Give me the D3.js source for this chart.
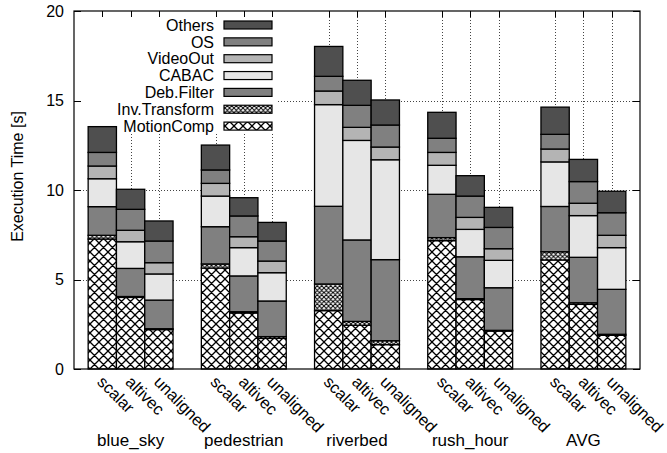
<!DOCTYPE html>
<html>
<head>
<meta charset="utf-8">
<script src="https://cdn.jsdelivr.net/npm/d3@7/dist/d3.min.js"></script>
<style>
  html, body { margin: 0; padding: 0; background: #fff; }
  svg { display: block; font-family: "Liberation Sans", Arial, Helvetica, sans-serif; }
</style>
</head>
<body>
<svg id="chart" width="667" height="453"></svg>
<script>
// Benchmark clips and code variants
const groups = ["blue_sky", "pedestrian", "riverbed", "rush_hour", "AVG"];
const variants = ["scalar", "altivec", "unaligned"];
const yTicks = [0, 5, 10, 15, 20];

// Execution time per component [s], one entry per bar (clip x variant)
const motionComp   = [7.26, 4.00, 2.20,  5.64, 3.13, 1.71,  3.26, 2.44, 1.36,  7.17, 3.88, 2.12,  6.09, 3.61, 1.88];
const invTransform = [0.21, 0.05, 0.05,  0.23, 0.07, 0.10,  1.49, 0.22, 0.22,  0.17, 0.05, 0.04,  0.46, 0.09, 0.06];
const debFilter    = [1.60, 1.57, 1.60,  2.08, 2.00, 1.99,  4.34, 4.55, 4.53,  2.42, 2.34, 2.38,  2.53, 2.54, 2.51];
const cabac        = [1.56, 1.49, 1.46,  1.71, 1.58, 1.58,  5.68, 5.56, 5.58,  1.62, 1.53, 1.53,  2.49, 2.33, 2.33];
const videoOut     = [0.71, 0.64, 0.63,  0.71, 0.61, 0.65,  0.76, 0.73, 0.71,  0.72, 0.67, 0.65,  0.72, 0.69, 0.69];
const os           = [0.76, 1.17, 1.21,  0.75, 1.16, 1.12,  0.82, 1.23, 1.23,  0.79, 1.19, 1.19,  0.82, 1.21, 1.26];
const others       = [1.44, 1.12, 1.12,  1.39, 1.02, 1.04,  1.67, 1.40, 1.40,  1.45, 1.14, 1.12,  1.52, 1.24, 1.20];

// Stack order, bottom to top
const series = [
  { name: "MotionComp",    values: motionComp,   fill: "url(#hatchWide)" },
  { name: "Inv.Transform", values: invTransform, fill: "url(#hatchFine)" },
  { name: "Deb.Filter",    values: debFilter,    fill: "#808080" },
  { name: "CABAC",         values: cabac,        fill: "#e6e6e6" },
  { name: "VideoOut",      values: videoOut,     fill: "#b4b4b4" },
  { name: "OS",            values: os,           fill: "#808080" },
  { name: "Others",        values: others,       fill: "#4f4f4f" }
];

const svg = d3.select("#chart");
const plot = { left: 74, right: 640, top: 11, bottom: 369 };

// Hatch patterns
const defs = svg.append("defs");
function hatch(id, size, width) {
  const p = defs.append("pattern").attr("id", id).attr("patternUnits", "userSpaceOnUse")
    .attr("width", size).attr("height", size);
  p.append("rect").attr("width", size).attr("height", size).attr("fill", "#fff");
  p.append("path")
    .attr("d", `M0,0L${size},${size}M0,${size}L${size},0M${-size/2},${size/2}L${size/2},${size*1.5}M${size/2},${-size/2}L${size*1.5},${size/2}M${-size/2},${size/2}L${size/2},${-size/2}M${size/2},${size*1.5}L${size*1.5},${size/2}`)
    .attr("stroke", "#000").attr("stroke-width", width);
}
hatch("hatchWide", 9, 1.3);
hatch("hatchFine", 4.5, 1.0);

// Bars sit in slots: 3 per clip plus one empty slot between clips
const bars = [];
groups.forEach((g, gi) => variants.forEach((v, vi) => {
  bars.push({ group: g, variant: v, slot: gi * 4 + vi, idx: gi * 3 + vi });
}));
const x = d3.scaleLinear().domain([-1, groups.length * 4 - 1]).range([plot.left, plot.right]);
const slotW = x(1) - x(0);
const y = d3.scaleLinear().domain([0, 20]).range([plot.bottom, plot.top]);

// Grid
const grid = svg.append("g").attr("stroke", "#444").attr("stroke-width", 1).attr("stroke-dasharray", "1,2");
yTicks.filter(t => t > 0 && t < 20).forEach(t => {
  grid.append("line").attr("x1", plot.left).attr("x2", plot.right)
    .attr("y1", Math.round(y(t)) + 0.5).attr("y2", Math.round(y(t)) + 0.5);
});
bars.forEach(b => {
  const cx = Math.round(x(b.slot)) + 0.5;
  grid.append("line").attr("x1", cx).attr("x2", cx).attr("y1", plot.top).attr("y2", plot.bottom);
});

// Legend background
const legend = { textRight: 214, swatchX: 224, swatchW: 48, swatchH: 8, rowTop: 25, rowStep: 16.85 };
svg.append("rect").attr("x", 82).attr("y", 17).attr("width", 196).attr("height", 116).attr("fill", "#fff");

// Stacked bars
const stack = d3.stack().keys(series.map((s, i) => i)).value((d, k) => series[k].values[d.idx]);
const layers = stack(bars);
const barG = svg.append("g");
layers.forEach((layer, k) => {
  barG.append("g").selectAll("rect").data(layer).join("rect")
    .attr("x", d => x(d.data.slot) - slotW / 2)
    .attr("width", slotW)
    .attr("y", d => y(d[1]))
    .attr("height", d => y(d[0]) - y(d[1]))
    .attr("fill", series[k].fill)
    .attr("stroke", "#000")
    .attr("stroke-width", 1.3);
});

// Frame
svg.append("rect").attr("x", plot.left).attr("y", plot.top)
  .attr("width", plot.right - plot.left).attr("height", plot.bottom - plot.top)
  .attr("fill", "none").attr("stroke", "#000").attr("stroke-width", 1.2);

// Y ticks (both sides, inward)
const ticks = svg.append("g").attr("stroke", "#000").attr("stroke-width", 1);
yTicks.forEach(t => {
  const yy = Math.round(y(t)) + 0.5;
  ticks.append("line").attr("x1", plot.left).attr("x2", plot.left + 7).attr("y1", yy).attr("y2", yy);
  ticks.append("line").attr("x1", plot.right - 7).attr("x2", plot.right).attr("y1", yy).attr("y2", yy);
});
bars.forEach(b => {
  const cx = Math.round(x(b.slot)) + 0.5;
  ticks.append("line").attr("x1", cx).attr("x2", cx).attr("y1", plot.top).attr("y2", plot.top + 6);
});

// Y tick labels
svg.append("g").selectAll("text").data(yTicks).join("text")
  .attr("x", 64).attr("y", d => y(d)).attr("dy", "0.36em")
  .attr("text-anchor", "end").attr("font-size", 16).attr("fill", "#000")
  .text(d => d);

// Y axis title
svg.append("text")
  .attr("transform", `translate(23,${(113 + 240) / 2}) rotate(-90)`)
  .attr("text-anchor", "middle").attr("font-size", 16).attr("fill", "#000")
  .text("Execution Time [s]");

// Variant labels, slanted
svg.append("g").selectAll("text").data(bars).join("text")
  .attr("transform", d => `translate(${x(d.slot) - 6},${383}) rotate(45)`)
  .attr("font-size", 16.5).attr("fill", "#000")
  .text(d => d.variant);

// Clip labels
svg.append("g").selectAll("text").data(groups).join("text")
  .attr("x", (d, i) => x(i * 4 + 1)).attr("y", 446)
  .attr("text-anchor", "middle").attr("font-size", 17).attr("fill", "#000")
  .text(d => d);

// Legend entries, top to bottom
const legendItems = series.slice().reverse();
const lg = svg.append("g");
legendItems.forEach((s, i) => {
  const cy = legend.rowTop + i * legend.rowStep;
  lg.append("text").attr("x", legend.textRight).attr("y", cy).attr("dy", "0.36em")
    .attr("text-anchor", "end").attr("font-size", 16).attr("fill", "#000").text(s.name);
  lg.append("rect").attr("x", legend.swatchX).attr("y", cy - legend.swatchH / 2)
    .attr("width", legend.swatchW).attr("height", legend.swatchH)
    .attr("fill", s.fill).attr("stroke", "#000").attr("stroke-width", 1.2);
});
</script>
</body>
</html>
